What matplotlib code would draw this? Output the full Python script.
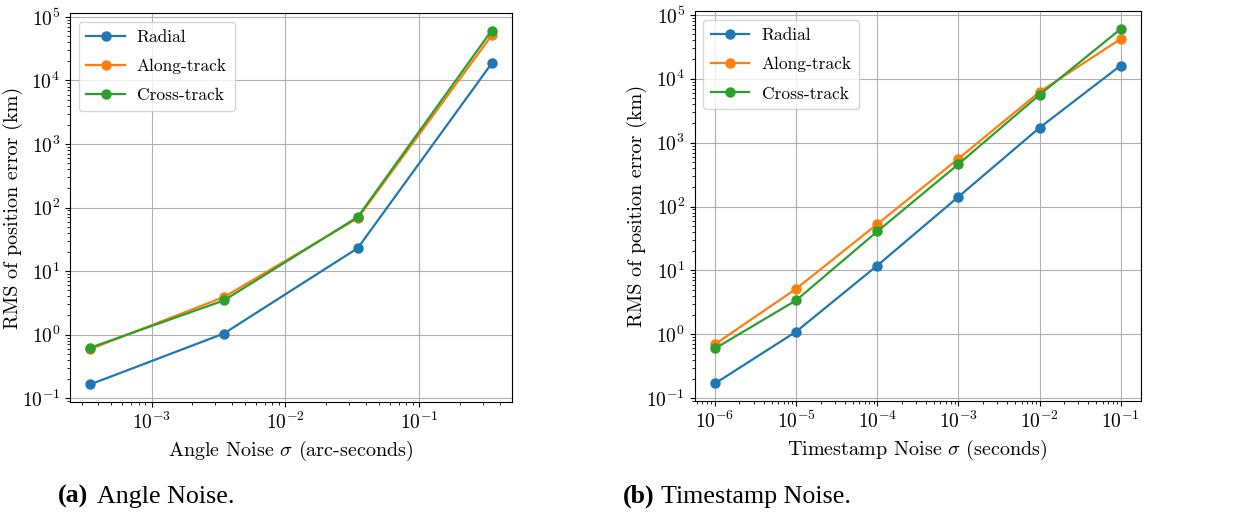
import matplotlib
matplotlib.use("Agg")
import matplotlib.pyplot as plt

plt.rcParams['font.family'] = 'serif'
plt.rcParams['font.serif'] = ['cmr10', 'DejaVu Serif']
plt.rcParams['mathtext.fontset'] = 'cm'
plt.rcParams['axes.formatter.use_mathtext'] = True
plt.rcParams['axes.unicode_minus'] = False

series_names = ['Radial', 'Along-track', 'Cross-track']

# (a) angle noise, arc-seconds
angle_sigma = [3.47e-4, 3.47e-3, 3.47e-2, 3.47e-1]
angle_radial = [0.164, 1.04, 23.0, 1.85e4]
angle_along = [0.59, 3.9, 68.0, 5.1e4]
angle_cross = [0.62, 3.45, 71.0, 6.1e4]

# (b) timestamp noise, seconds
time_sigma = [1e-6, 1e-5, 1e-4, 1e-3, 1e-2, 1e-1]
time_radial = [0.17, 1.1, 11.9, 142, 1710, 1.61e4]
time_along = [0.70, 5.15, 53, 560, 6200, 4.2e4]
time_cross = [0.60, 3.4, 40.7, 460, 5600, 6.0e4]

fig = plt.figure(figsize=(12.34, 5.13), dpi=100)
ax_a = fig.add_axes([0.0567, 0.216, 0.358, 0.759])
ax_b = fig.add_axes([0.563, 0.218, 0.3616, 0.760])

panels = [
    (ax_a, angle_sigma, [angle_radial, angle_along, angle_cross],
     r'Angle Noise $\sigma$ (arc-seconds)', -0.106),
    (ax_b, time_sigma, [time_radial, time_along, time_cross],
     r'Timestamp Noise $\sigma$ (seconds)', -0.108),
]

for ax, xs, ys, xlabel, ylab_x in panels:
    for name, y in zip(series_names, ys):
        ax.plot(xs, y, marker='o', label=name, markersize=6.5, linewidth=1.6)
    ax.set_xscale('log')
    ax.set_yscale('log')
    ax.grid(True)
    ax.set_xlabel(xlabel, fontsize=14.5)
    ax.set_ylabel('RMS of position error (km)', fontsize=14.5)
    ax.yaxis.set_label_coords(ylab_x, 0.5)
    ax.tick_params(labelsize=14)
    ax.legend(loc='upper left', fontsize=12.5, handlelength=2.2,
              labelspacing=0.8, handletextpad=0.7, borderpad=0.45)

ax_b.set_xticks(time_sigma)

# captions under the panels
cap_font = dict(fontsize=18.7, family=['Liberation Serif', 'DejaVu Serif'],
                va='baseline', ha='left')
fig.text(58 / 1234, 10 / 513, '(a)', weight='bold', **cap_font)
fig.text(97 / 1234, 10 / 513, 'Angle Noise.', **cap_font)
fig.text(623 / 1234, 10 / 513, '(b)', weight='bold', **cap_font)
fig.text(661 / 1234, 10 / 513, 'Timestamp Noise.', **cap_font)

fig.savefig('out.png', dpi=100)
